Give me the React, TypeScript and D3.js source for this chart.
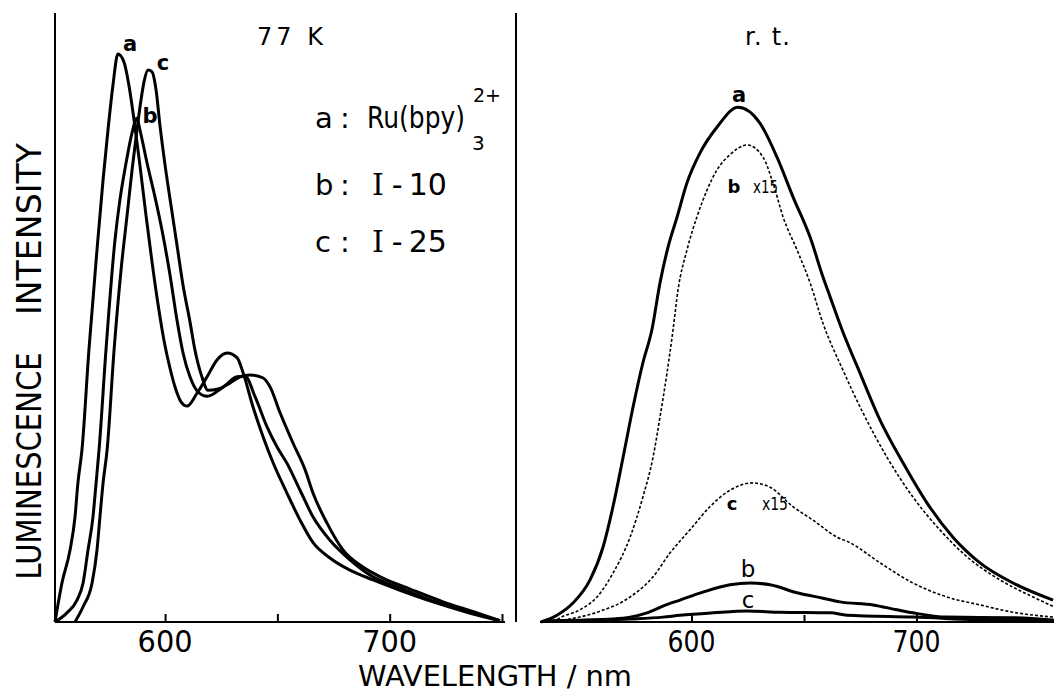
import React, { useEffect, useRef } from 'react';
import * as d3 from 'd3';

const W = 1054;
const H = 693;

// 77 K spectra: [wavelength (nm), relative intensity]
const lowA: [number, number][] = [
  [551.0, 0], [554.1, 6.4], [557.7, 11.8], [559.9, 17.2], [561.2, 22.8], [563.0, 28.2], [566.1, 44.6],
  [569.7, 61.0], [572.4, 72.5], [574.6, 80.7], [576.8, 88.0], [579.0, 93.1], [581.7, 91.8], [583.9, 88.0],
  [586.2, 82.3], [588.8, 74.9], [591.5, 66.7], [594.2, 59.0], [596.9, 52.0], [599.5, 46.2], [602.2, 41.6],
  [604.9, 38.0], [607.1, 36.1], [609.8, 35.4], [614.2, 37.5], [618.7, 40.2], [623.2, 43.0], [627.6, 44.1],
  [632.1, 43.3], [634.8, 40.8], [639.2, 35.2], [643.7, 30.3], [648.1, 26.1], [654.3, 21.1], [660.1, 16.7],
  [665.9, 13.0], [673.4, 10.5], [682.3, 8.5], [692.6, 6.9], [704.6, 5.2], [719.3, 3.3], [734.4, 1.6],
  [749.1, 0.2],
];
const lowB: [number, number][] = [
  [551.0, 0], [556.3, 1.5], [560.8, 3.6], [563.5, 6.4], [565.7, 11.8], [567.9, 17.2], [569.3, 22.8],
  [570.6, 28.2], [573.7, 44.6], [577.7, 62.6], [579.9, 69.2], [582.6, 75.2], [585.3, 80.2], [587.5, 82.6],
  [588.8, 80.7], [592.0, 75.2], [595.5, 69.7], [598.6, 64.3], [602.2, 56.9], [605.3, 49.5], [608.0, 44.1],
  [611.1, 40.2], [614.7, 37.7], [618.7, 37.0], [625.8, 38.5], [632.1, 40.2], [635.6, 40.3], [640.1, 36.9],
  [645.4, 32.0], [650.0, 28.6], [654.3, 26.0], [660.1, 21.6], [665.9, 17.2], [673.4, 13.4], [682.3, 10.2],
  [692.6, 7.4], [704.6, 5.6], [719.3, 3.4], [734.4, 1.8], [749.1, 0.2],
];
const lowC: [number, number][] = [
  [559.9, 0], [563.5, 2.5], [567.5, 6.4], [569.7, 11.8], [571.0, 17.2], [572.4, 22.8], [574.2, 28.2],
  [577.3, 44.6], [580.4, 57.7], [583.1, 66.7], [585.3, 74.1], [587.5, 80.7], [589.3, 85.6], [590.6, 88.5],
  [592.4, 90.5], [594.2, 90.2], [596.0, 87.2], [597.7, 81.5], [600.0, 74.9], [602.6, 68.4], [605.3, 61.8],
  [608.0, 55.2], [611.1, 49.2], [613.3, 44.6], [616.4, 40.2], [619.1, 38.0], [623.6, 38.2], [629.0, 39.2],
  [633.4, 40.2], [637.9, 40.5], [643.7, 40.0], [646.8, 38.5], [651.2, 34.3], [657.0, 29.3], [662.4, 24.9],
  [665.9, 21.1], [672.1, 16.2], [679.2, 11.8], [688.1, 9.0], [697.0, 7.2], [709.1, 5.4], [723.8, 3.3],
  [738.9, 1.5], [749.1, 0.2],
];

// room temperature spectra
const rtA: [number, number][] = [
  [533.1, 0], [540.2, 1.1], [547.3, 3.1], [554.9, 6.9], [560.7, 12.3], [565.1, 18.9], [569.6, 27.0],
  [574.0, 35.2], [578.4, 42.5], [582.4, 47.9], [586.0, 55.6], [589.6, 61.5], [593.6, 66.4], [598.0, 72.0],
  [603.8, 76.9], [611.3, 81.1], [620.7, 84.4], [630.4, 81.8], [638.0, 76.2], [645.1, 69.7], [652.7, 63.1],
  [658.4, 56.6], [661.6, 53.3], [666.9, 47.9], [674.9, 40.8], [683.8, 33.1], [694.0, 26.1], [704.7, 19.5],
  [716.2, 13.9], [728.2, 9.7], [742.9, 6.4], [760.7, 3.6],
];
const rtB15: [number, number][] = [
  [538.4, 0], [541.6, 0.7], [550.4, 2.0], [558.0, 4.1], [565.1, 8.0], [572.7, 13.9], [578.4, 20.5],
  [582.9, 27.0], [586.0, 33.6], [589.1, 40.8], [591.8, 47.9], [594.0, 54.4], [598.0, 61.0], [602.4, 66.4],
  [606.9, 70.8], [611.3, 74.1], [617.1, 76.6], [624.7, 78.2], [631.8, 76.2], [636.2, 72.0], [640.7, 66.4],
  [646.9, 61.0], [652.7, 55.6], [658.4, 49.0], [667.3, 41.3], [676.2, 34.3], [686.9, 27.0], [698.4, 20.5],
  [710.4, 15.1], [722.4, 10.7], [737.1, 6.9], [751.8, 4.1], [761.1, 2.5],
];
const rtC15: [number, number][] = [
  [542.9, 0.3], [558.0, 1.6], [572.7, 4.1], [582.9, 7.4], [590.4, 11.3], [599.3, 15.1], [608.2, 18.9],
  [617.1, 21.6], [626.9, 22.8], [634.9, 22.1], [645.1, 18.9], [654.0, 16.7], [664.7, 13.9], [670.4, 13.0],
  [683.8, 9.7], [698.4, 6.4], [713.6, 4.1], [728.2, 2.8], [742.9, 1.6], [760.7, 0.8],
];
const rtB: [number, number][] = [
  [534.9, 0.2], [550.0, 0.3], [565.1, 0.5], [572.7, 0.8], [580.2, 1.5], [587.3, 2.6], [594.9, 3.6],
  [605.1, 4.9], [617.1, 6.1], [626.0, 6.4], [634.9, 6.1], [646.9, 4.8], [658.4, 3.9], [666.0, 3.3],
  [680.7, 2.8], [691.3, 2.0], [698.4, 1.5], [713.6, 0.8], [742.9, 0.7], [761.0, 0.3],
];
const rtC: [number, number][] = [
  [541.6, 0.2], [572.7, 0.5], [587.3, 0.8], [594.9, 1.1], [609.6, 1.5], [624.7, 1.8], [639.3, 1.6],
  [661.6, 1.5], [669.1, 1.1], [698.4, 0.8], [737.1, 0.3], [761.0, 0.3],
];

const ticksLeft = [600, 650, 700, 750];
const ticksRight = [600, 650, 700];
const tickLabels = [600, 700];
const font = '"DejaVu Sans", sans-serif';
const serif = '"DejaVu Serif", serif';

const App = () => {
  const ref = useRef<SVGSVGElement>(null);

  useEffect(() => {
    document.body.style.margin = '0';
    const svg = d3.select(ref.current);
    svg.selectAll('*').remove();

    const xL = d3.scaleLinear().domain([551, 750]).range([55, 502]);
    const xR = d3.scaleLinear().domain([522, 762]).range([516, 1056]);
    const y = d3.scaleLinear().domain([0, 100]).range([622, 12]);

    const lineL = d3.line<[number, number]>().x(d => xL(d[0])).y(d => y(d[1])).curve(d3.curveMonotoneX);
    const lineR = d3.line<[number, number]>().x(d => xR(d[0])).y(d => y(d[1])).curve(d3.curveMonotoneX);

    // frame lines
    const frame = svg.append('g').attr('stroke', '#000').attr('stroke-width', 2);
    frame.append('line').attr('x1', 55).attr('x2', 55).attr('y1', 13).attr('y2', 622);
    frame.append('line').attr('x1', 55).attr('x2', 505).attr('y1', 622).attr('y2', 622);
    frame.append('line').attr('x1', 516).attr('x2', 516).attr('y1', 13).attr('y2', 622);
    frame.append('line').attr('x1', 540).attr('x2', 1054).attr('y1', 622).attr('y2', 622);

    // ticks pointing up
    const tickStyle = (g: any) => {
      g.select('.domain').remove();
      g.selectAll('.tick line').attr('stroke', '#000').attr('stroke-width', 2);
    };
    svg.append('g').attr('transform', 'translate(0,622)')
      .call(d3.axisBottom(xL).tickValues(ticksLeft).tickSize(-8).tickFormat(() => ''))
      .call(tickStyle);
    svg.append('g').attr('transform', 'translate(0,622)')
      .call(d3.axisBottom(xR).tickValues(ticksRight).tickSize(-7).tickFormat(() => ''))
      .call(tickStyle);

    // tick labels
    const tl = svg.append('g').attr('font-family', font).attr('font-size', 30).attr('text-anchor', 'middle');
    tickLabels.forEach(v => {
      tl.append('text').attr('x', xL(v)).attr('y', 652).attr('textLength', 55).attr('lengthAdjust', 'spacingAndGlyphs').text(v);
      tl.append('text').attr('x', xR(v)).attr('y', 652).attr('textLength', 48).attr('lengthAdjust', 'spacingAndGlyphs').text(v);
    });

    // curves
    const solid = (g: any) => g.attr('fill', 'none').attr('stroke', '#000').attr('stroke-width', 3).attr('stroke-linejoin', 'round');
    [lowA, lowB, lowC].forEach(s => svg.append('path').attr('d', lineL(s)).call(solid));
    [rtA, rtB, rtC].forEach(s => svg.append('path').attr('d', lineR(s)).call(solid));
    [rtB15, rtC15].forEach(s => svg.append('path').attr('d', lineR(s))
      .attr('fill', 'none').attr('stroke', '#000').attr('stroke-width', 1.6).attr('stroke-dasharray', '3,2'));

    const txt = (x: number, yy: number, s: string, size: number, opts: any = {}) => {
      const t = svg.append('text').attr('x', x).attr('y', yy).attr('font-family', font).attr('font-size', size).text(s);
      Object.entries(opts).forEach(([k, v]) => t.attr(k, v as any));
      return t;
    };

    // titles
    txt(257, 45, '77 K', 24, { textLength: 66, lengthAdjust: 'spacing' });
    txt(745, 45, 'r. t.', 24, { textLength: 45, lengthAdjust: 'spacing' });

    // legend
    txt(315, 128, 'a', 29);
    txt(340, 128, ':', 29);
    const ru = txt(367, 128, '', 30);
    ru.append('tspan').attr('textLength', 98).attr('lengthAdjust', 'spacingAndGlyphs').text('Ru(bpy)');
    ru.append('tspan').attr('x', 472).attr('y', 150).attr('font-size', 20).text('3');
    ru.append('tspan').attr('x', 473).attr('y', 102).attr('font-size', 19).text('2+');
    const roman = (yy: number, num: string) => {
      const t = txt(372, yy, '', 30);
      t.append('tspan').attr('font-family', serif).text('I');
      t.append('tspan').attr('dx', 8).text('-');
      t.append('tspan').attr('dx', 6).text(num);
    };
    txt(315, 195, 'b', 29);
    txt(340, 195, ':', 29);
    roman(195, '10');
    txt(315, 252, 'c', 29);
    txt(340, 252, ':', 29);
    roman(252, '25');

    // curve labels
    const bold = { 'font-weight': 'bold', 'text-anchor': 'middle' };
    txt(130, 51, 'a', 21, bold);
    txt(163, 70, 'c', 21, bold);
    txt(150, 123, 'b', 21, bold);
    txt(739, 102, 'a', 21, bold);
    txt(734, 193, 'b', 18, bold);
    txt(753, 193, 'x15', 17, { textLength: 25, lengthAdjust: 'spacingAndGlyphs' });
    txt(732, 510, 'c', 18, bold);
    txt(762, 510, 'x15', 17, { textLength: 26, lengthAdjust: 'spacingAndGlyphs' });
    txt(748, 577, 'b', 23, { 'text-anchor': 'middle' });
    txt(748, 608, 'c', 23, { 'text-anchor': 'middle' });

    // axis titles
    txt(358, 686, 'WAVELENGTH / nm', 29, { textLength: 274, lengthAdjust: 'spacingAndGlyphs' });
    txt(0, 0, 'INTENSITY', 33, {
      transform: 'translate(41,229) rotate(-90)', 'text-anchor': 'middle',
      textLength: 172, lengthAdjust: 'spacingAndGlyphs',
    });
    txt(0, 0, 'LUMINESCENCE', 33, {
      transform: 'translate(41,466) rotate(-90)', 'text-anchor': 'middle',
      textLength: 227, lengthAdjust: 'spacingAndGlyphs',
    });
  }, []);

  return <svg ref={ref} width={W} height={H} style={{ display: 'block', background: '#fff' }} />;
};

export default App;
